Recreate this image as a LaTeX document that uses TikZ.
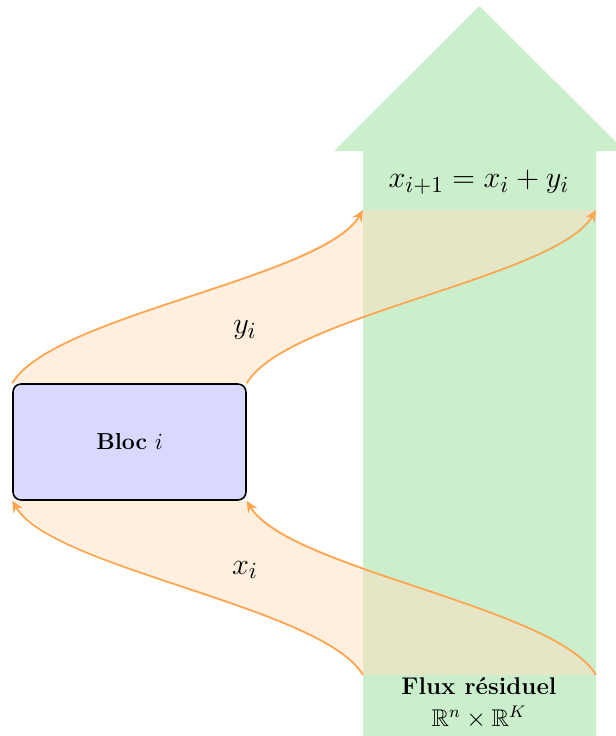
\documentclass[tikz,border=0pt]{standalone}
\usepackage{amssymb}
\usetikzlibrary{arrows.meta}
\definecolor{fluxgreen}{RGB}{203,238,204}
\definecolor{bandedge}{RGB}{255,165,80}
\definecolor{bandfill}{RGB}{255,223,191}
\definecolor{blocfill}{RGB}{217,217,255}
\pgfdeclarelayer{bg}
\pgfsetlayers{bg,main}
\begin{document}
\begin{tikzpicture}[x=0.476pt,y=-0.476pt,
  band/.style={fill=bandfill, fill opacity=0.5, draw=none},
  flow/.style={draw=bandedge, line width=0.85pt, -{Stealth[length=5.5pt,width=5pt]}},
  blocbox/.style={draw=black, line width=0.75pt, fill=blocfill, rounded corners=3.8pt,
    minimum width=110.9pt, minimum height=55.2pt, inner sep=0pt,
    font=\fontsize{11}{13}\selectfont},
  lbl/.style={inner sep=1pt}]
\useasboundingbox (0,0) rectangle (616,736);
\clip (0,0) rectangle (616,736);
% block
\node[blocbox] (bloc) at (129.5,442) {\textbf{Bloc} $i$};
\coordinate (ytl) at (363,210);
\coordinate (ytr) at (596,210);
\coordinate (xbl) at (363,675);
\coordinate (xbr) at (596,675);
\begin{pgfonlayer}{bg}
  % residual stream arrow
  \fill[fluxgreen] (363,736) -- (363,151) -- (334,151) -- (479.5,6) -- (625,151)
    -- (596,151) -- (596,736) -- cycle;
  % bands
  \fill[band] (bloc.north west) .. controls +(40,-68) and +(-40,68) .. (ytl)
    -- (ytr) .. controls +(-40,68) and +(40,-68) .. (bloc.north east) -- cycle;
  \fill[band] (bloc.south west) -- (bloc.south east)
    .. controls +(40,68) and +(-40,-68) .. (xbr) -- (xbl)
    .. controls +(-40,-68) and +(40,68) .. (bloc.south west) -- cycle;
\end{pgfonlayer}
% flow curves
\draw[flow] (bloc.north west) .. controls +(40,-68) and +(-40,68) .. (ytl);
\draw[flow] (bloc.north east) .. controls +(40,-68) and +(-40,68) .. (ytr);
\draw[flow] (xbl) .. controls +(-40,-68) and +(40,68) .. (bloc.south west);
\draw[flow] (xbr) .. controls +(-40,-68) and +(40,68) .. (bloc.south east);
% texts
\node[lbl] (formula) at (479,182) {\fontsize{15}{18}\selectfont $x_{i+1} = x_i + y_i$};
\node[lbl] (ylab) at (245,330) {\fontsize{15}{18}\selectfont $y_i$};
\node[lbl] (xlab) at (245,570) {\fontsize{15}{18}\selectfont $x_i$};
\node[lbl, align=center, font=\fontsize{11.5}{14}\selectfont] (fluxlab) at (479,703)
  {\textbf{Flux r\'esiduel}\\[1.5pt] $\mathbb{R}^n \times \mathbb{R}^K$};
\end{tikzpicture}
\end{document}
